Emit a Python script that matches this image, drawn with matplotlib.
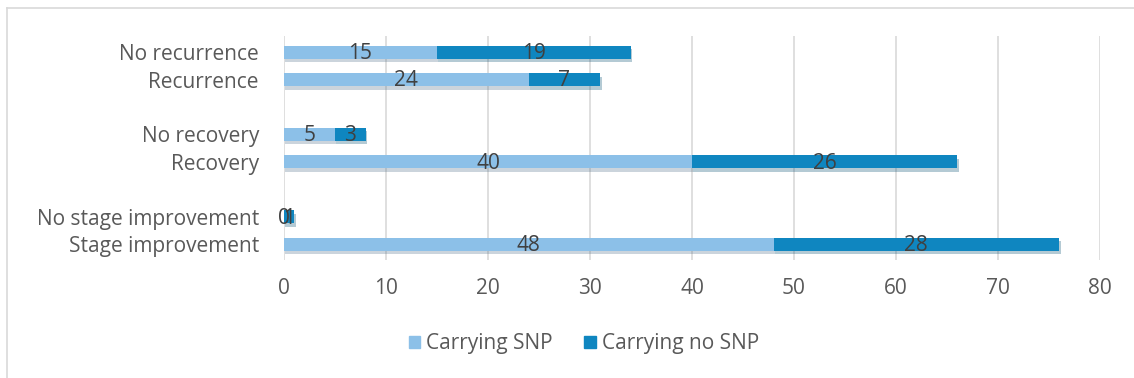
import matplotlib.pyplot as plt
from matplotlib import patheffects as pe
from matplotlib.lines import Line2D

# categories bottom-to-top, with blank slots between groups
categories = ['Stage improvement', 'No stage improvement', '',
              'Recovery', 'No recovery', '',
              'Recurrence', 'No recurrence']
snp = [48, 0, None, 40, 5, None, 24, 15]
no_snp = [28, 1, None, 26, 3, None, 7, 19]
series_names = ['Carrying SNP', 'Carrying no SNP']

light = '#8cc0e8'
dark = '#0f86c0'
txt = '#595959'
fs = 15

plt.rcParams['font.family'] = ['Open Sans', 'DejaVu Sans']

fig = plt.figure(figsize=(11.34, 3.78), dpi=100)
ax = fig.add_axes([0.2504, 0.312, 0.7196, 0.592])

shadow = [pe.SimplePatchShadow(offset=(1, -2.5), alpha=0.3, rho=0.6), pe.Normal()]
for i, cat in enumerate(categories):
    if snp[i] is None:
        continue
    b1 = ax.barh(i, snp[i], height=0.47, color=light, zorder=3)
    b2 = ax.barh(i, no_snp[i], left=snp[i], height=0.47, color=dark, zorder=3)
    for b in list(b1) + list(b2):
        b.set_path_effects(shadow)
    ax.text(snp[i] / 2, i - 0.05, str(snp[i]), ha='center', va='center',
            fontsize=fs, color='#404040', zorder=4)
    ax.text(snp[i] + no_snp[i] / 2, i - 0.05, str(no_snp[i]), ha='center', va='center',
            fontsize=fs, color='#404040', zorder=4)

ax.set_yticks(range(len(categories)))
ax.set_yticklabels(categories)
ax.set_ylim(-0.58, 7.58)
ax.set_xlim(0, 80)
ax.set_xticks(range(0, 81, 10))
ax.tick_params(axis='both', length=0, labelsize=fs, colors=txt)
ax.tick_params(axis='x', pad=13)
ax.tick_params(axis='y', pad=18)
ax.grid(axis='x', color='#d9d9d9', linewidth=1.2, zorder=0)
for s in ax.spines.values():
    s.set_visible(False)

handles = [plt.Rectangle((0, 0), 1, 1, color=light), plt.Rectangle((0, 0), 1, 1, color=dark)]
fig.legend(handles, series_names, loc='center', bbox_to_anchor=(0.515, 0.09), ncol=2,
           frameon=False, fontsize=fs, labelcolor=txt, handlelength=0.55,
           handleheight=0.55, handletextpad=0.3, columnspacing=1.5)

# chart frame (cropped on right and bottom)
fig.add_artist(Line2D([7 / 1134, 7 / 1134], [0, 1 - 8 / 378], color='#d9d9d9', lw=1.2,
                      transform=fig.transFigure))
fig.add_artist(Line2D([7 / 1134, 1], [1 - 8 / 378, 1 - 8 / 378], color='#d9d9d9', lw=1.2,
                      transform=fig.transFigure))

fig.savefig('out.png', dpi=100)
